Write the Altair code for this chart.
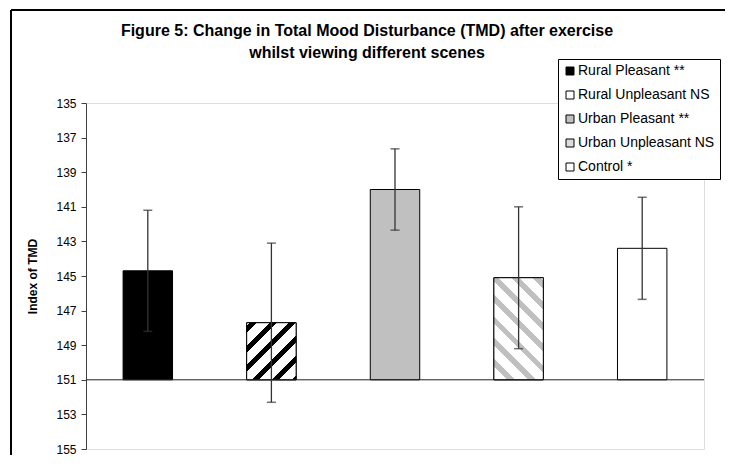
import math
import altair as alt
import pandas as pd

# ---------------- data ----------------
categories = ["Rural Pleasant **", "Rural Unpleasant NS", "Urban Pleasant **",
              "Urban Unpleasant NS", "Control *"]
tmd_means = [144.7, 147.7, 140.0, 145.1, 143.4]
tmd_errors = [3.5, 4.6, 2.35, 4.1, 2.95]
legend_fills = ["#000000", "#ffffff", "#c0c0c0", "#dcdcdc", "#ffffff"]
y_ticks = [135, 137, 139, 141, 143, 145, 147, 149, 151, 153, 155]
baseline_value = 151
title_lines = ["Figure 5: Change in Total Mood Disturbance (TMD) after exercise",
               "whilst viewing different scenes"]
y_title = "Index of TMD"

# ---------------- layout ----------------
FONT = "Liberation Sans"
W, H = 618, 346
Y_DOMAIN = [135, 155]
PAD_INNER, PAD_OUTER = 0.6, 0.3

df = pd.DataFrame({"scene": categories, "tmd": tmd_means, "err": tmd_errors})
df["lo"] = df["tmd"] - df["err"]
df["hi"] = df["tmd"] + df["err"]
df["base"] = baseline_value
one = pd.DataFrame({"k": [0]})

step = W / (len(categories) - PAD_INNER + 2 * PAD_OUTER)
bar_w = step * (1 - PAD_INNER)
px_per_unit = H / (Y_DOMAIN[1] - Y_DOMAIN[0])


def hatch(mean, color, direction, period=14.0, band=5.0, phase=2.0):
    """Diagonal stripe fill made from a linear gradient with hard stops."""
    w = bar_w
    h = abs(baseline_value - mean) * px_per_unit
    s = (w + h) / (w * w + h * h)
    if direction == "up":      # '/' stripes
        x1, y1, x2, y2 = 0.0, 0.0, w * s, h * s
    else:                      # '\' stripes
        x1, y1, x2, y2 = 1.0, 0.0, 1.0 - w * s, h * s
    total = (w + h) / math.sqrt(2)
    stops = [{"offset": 0.0, "color": "#ffffff"}]
    start = phase
    while start < total:
        a = max(start, 0.0) / total
        b = min(start + band, total) / total
        stops += [{"offset": a, "color": "#ffffff"}, {"offset": a, "color": color},
                  {"offset": b, "color": color}, {"offset": b, "color": "#ffffff"}]
        start += period
    stops.append({"offset": 1.0, "color": "#ffffff"})
    return {"gradient": "linear", "x1": x1, "y1": y1, "x2": x2, "y2": y2, "stops": stops}


x_enc = alt.X("scene:N", sort=categories, axis=None,
              scale=alt.Scale(paddingInner=PAD_INNER, paddingOuter=PAD_OUTER))
y_scale = alt.Scale(domain=Y_DOMAIN, reverse=True, zero=False, nice=False)
y_axis = alt.Axis(values=y_ticks, tickCount=len(y_ticks), labelOverlap=False,
                  grid=False, tickSize=5, labelPadding=5,
                  labelFont=FONT, labelFontSize=12, labelColor="black",
                  titleFont=FONT, titleFontSize=12, titleFontWeight="bold",
                  titleColor="black", titlePadding=16,
                  domainColor="#404040", tickColor="#404040")


def yq(field):
    return alt.Y(field, scale=y_scale, axis=y_axis, title=y_title)


base = alt.Chart(df)

bars = base.mark_bar(stroke="black", strokeWidth=1).encode(
    x=x_enc,
    y=yq("tmd:Q"),
    y2="base:Q",
    fill=alt.Fill("scene:N", sort=categories,
                  scale=alt.Scale(domain=categories, range=legend_fills),
                  legend=alt.Legend(title=None, orient="none", legendX=472, legendY=-44,
                                    direction="vertical", strokeColor="black",
                                    fillColor="white", padding=5,
                                    labelFont=FONT, labelFontSize=14, labelColor="black",
                                    labelLimit=400, labelOffset=1,
                                    symbolType="square", symbolSize=64,
                                    symbolStrokeColor="black", symbolStrokeWidth=1,
                                    symbolOpacity=1, rowPadding=10)),
)

hatch_rural = base.transform_filter(alt.datum.scene == categories[1]).mark_bar(
    fill=hatch(tmd_means[1], "#000000", "up"), stroke="black", strokeWidth=1
).encode(x=x_enc, y=yq("tmd:Q"), y2="base:Q")

hatch_urban = base.transform_filter(alt.datum.scene == categories[3]).mark_bar(
    fill=hatch(tmd_means[3], "#c0c0c0", "down", period=15.0, band=5.5), stroke="black",
    strokeWidth=1
).encode(x=x_enc, y=yq("tmd:Q"), y2="base:Q")

baseline_rule = alt.Chart(one).mark_rule(color="#222222", strokeWidth=1).encode(
    y=alt.datum(baseline_value))

err_rule = base.mark_rule(color="#333333", strokeWidth=1.3).encode(
    x=x_enc, y=yq("lo:Q"), y2="hi:Q")
cap_lo = base.mark_tick(color="#333333", size=9, thickness=1.5).encode(
    x=x_enc, y=yq("lo:Q"))
cap_hi = base.mark_tick(color="#333333", size=9, thickness=1.5).encode(
    x=x_enc, y=yq("hi:Q"))

frame_top = alt.Chart(one).mark_rule(color="black", strokeWidth=2).encode(
    x=alt.value(-75), x2=alt.value(W + 120), y=alt.value(-93))
frame_left = alt.Chart(one).mark_rule(color="black", strokeWidth=2).encode(
    x=alt.value(-75), y=alt.value(-93), y2=alt.value(H + 120))

TITLE_X = 281
title1 = alt.Chart(one).mark_text(text=title_lines[0], font=FONT, fontSize=16,
                                  fontWeight="bold", color="black", align="center",
                                  baseline="alphabetic").encode(
    x=alt.value(TITLE_X), y=alt.value(-67))
title2 = alt.Chart(one).mark_text(text=title_lines[1], font=FONT, fontSize=16,
                                  fontWeight="bold", color="black", align="center",
                                  baseline="alphabetic").encode(
    x=alt.value(TITLE_X), y=alt.value(-45))

chart = alt.layer(
    frame_top, frame_left, title1, title2,
    bars, hatch_rural, hatch_urban, baseline_rule, err_rule, cap_lo, cap_hi
).properties(
    width=W, height=H,
    padding={"left": 78, "top": 95, "right": 21, "bottom": 6},
    autosize=alt.AutoSizeParams(type="none"),
    background="white",
).configure_view(stroke=None).configure(font=FONT)

chart.save("out.html", embed_options={"renderer": "svg", "actions": False})
